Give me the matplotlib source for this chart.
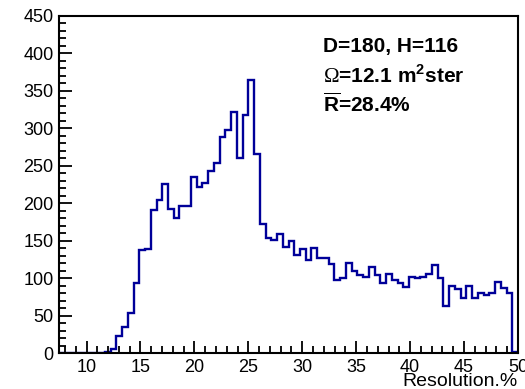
import numpy as np
import matplotlib
matplotlib.use("Agg")
import matplotlib.pyplot as plt
from matplotlib.ticker import MultipleLocator

plt.rcParams['font.family'] = ['Liberation Sans', 'DejaVu Sans']
plt.rcParams['mathtext.fontset'] = 'custom'
plt.rcParams['mathtext.rm'] = 'Liberation Serif'
plt.rcParams['mathtext.bf'] = 'Liberation Sans:bold'

# histogram: 94 bins over 0..50, only bins from index 14 are shown
n_bins = 94
hist_range = (0, 50)
first_bin = 14
counts = [
    0, 0, 0, 0, 0, 0, 0, 0,
    2, 6, 23, 35, 53, 93, 137, 139, 191, 204,
    226, 192, 180, 196, 196, 235, 222, 227, 243, 254,
    289, 298, 322, 260, 318, 364, 266, 172, 154, 151,
    159, 141, 149, 131, 139, 124, 140, 127, 127, 119,
    98, 100, 120, 109, 104, 101, 115, 104, 93, 105,
    97, 94, 88, 102, 100, 101, 106, 118, 100, 63,
    89, 86, 73, 89, 73, 80, 77, 80, 95, 87,
    80, 2,
]
x_label = "Resolution.%"
info_lines = [
    "D=180, H=116",
    r"$\mathrm{\Omega}$=12.1 m$^{\mathbf{2}}$ster",
    r"$\overline{\mathbf{R}}$=28.4%",
]

edges = np.linspace(hist_range[0], hist_range[1], n_bins + 1)
edges = edges[first_bin:first_bin + len(counts) + 1]

fig = plt.figure(figsize=(5.25, 3.89), dpi=100)
ax = fig.add_axes([59 / 525, 1 - 353 / 389, 459 / 525, 337 / 389])

ax.stairs(counts, edges, color='#000099', linewidth=1.7, baseline=None)

ax.set_xlim(edges[0], 50)
ax.set_ylim(0, 450)
ax.xaxis.set_major_locator(MultipleLocator(5))
ax.xaxis.set_minor_locator(MultipleLocator(1))
ax.yaxis.set_major_locator(MultipleLocator(50))
ax.yaxis.set_minor_locator(MultipleLocator(10))
ax.tick_params(which='both', direction='in', top=False, right=False,
               labelsize=13, width=1.3, pad=4)
ax.tick_params(which='major', length=9)
ax.tick_params(which='minor', length=5)
for s in ax.spines.values():
    s.set_linewidth(1.5)

ax.set_xlabel(x_label, loc='right', fontsize=14, labelpad=-2)

y_pos = [0.894, 0.801, 0.716]
for txt, yy in zip(info_lines, y_pos):
    ax.text(0.575, yy, txt, transform=ax.transAxes, fontsize=15,
            fontweight='bold', ha='left', va='baseline')

fig.savefig("out.png", dpi=100)
